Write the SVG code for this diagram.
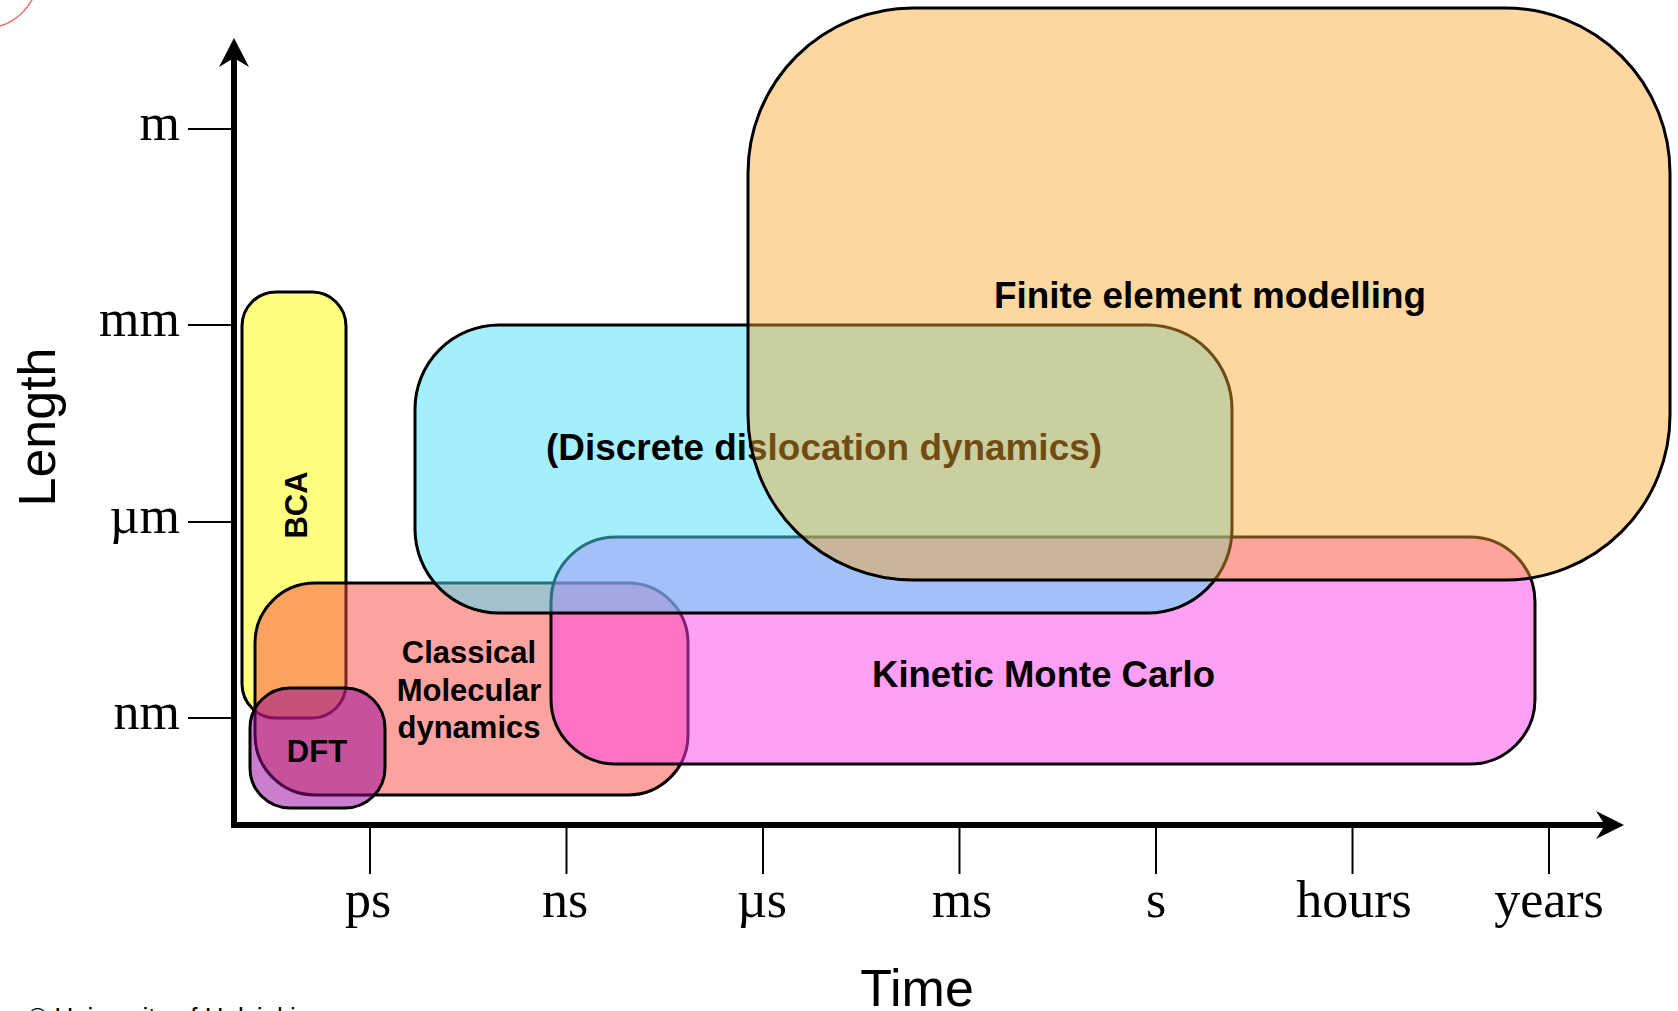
<svg xmlns="http://www.w3.org/2000/svg" width="1678" height="1011" viewBox="0 0 1678 1011">
<style>
.box{stroke:#000;stroke-width:3}
.lbl{font-family:"Liberation Sans",Arial,sans-serif;font-weight:bold;fill:#000}
.big{font-size:36px}
.small{font-size:31px}
.tick{stroke:#000;stroke-width:2}
.tl{font-family:"Liberation Serif","Times New Roman",serif;font-size:52px;fill:#000;text-anchor:middle}
.yl{font-family:"Liberation Serif","Times New Roman",serif;font-size:52px;fill:#000;text-anchor:end}
.axt{font-family:"Liberation Sans",Arial,sans-serif;font-size:52px;fill:#000;text-anchor:middle}
</style>
<rect x="0" y="0" width="1678" height="1011" fill="#fff"/>
<circle cx="-15" cy="-25" r="53" fill="none" stroke="#f07070" stroke-width="1.5"/>

<g id="node-bca">
<rect class="box" x="242" y="292" width="104" height="426" rx="34" fill="#ffff00" fill-opacity="0.5"/>
<text class="lbl small" transform="translate(307,505) rotate(-90)" text-anchor="middle">BCA</text>
</g>
<g id="node-md">
<rect class="box" x="255" y="583" width="433" height="212" rx="60" fill="#f9453f" fill-opacity="0.5"/>
<text class="lbl small" x="469" y="663" text-anchor="middle">Classical</text>
<text class="lbl small" x="469" y="701" text-anchor="middle">Molecular</text>
<text class="lbl small" x="469" y="738" text-anchor="middle">dynamics</text>
</g>
<g id="node-dft">
<rect class="box" x="250" y="688" width="135" height="120" rx="40" fill="#930099" fill-opacity="0.5"/>
<text class="lbl small" x="317" y="762" text-anchor="middle">DFT</text>
</g>
<g id="node-kmc">
<rect class="box" x="551" y="537" width="984" height="227" rx="65" fill="#ff41eb" fill-opacity="0.5"/>
<text class="lbl big" x="872" y="687" textLength="343" lengthAdjust="spacingAndGlyphs">Kinetic Monte Carlo</text>
</g>
<g id="node-ddd">
<rect class="box" x="415" y="325" width="817" height="288" rx="84" fill="#47dffb" fill-opacity="0.5"/>
<text class="lbl big" x="546" y="460" textLength="556" lengthAdjust="spacingAndGlyphs">(Discrete dislocation dynamics)</text>
</g>
<g id="node-fem">
<rect class="box" x="748" y="8" width="922" height="572" rx="165" fill="#f8a82c" fill-opacity="0.45"/>
<text class="lbl big" x="994" y="308" textLength="432" lengthAdjust="spacingAndGlyphs">Finite element modelling</text>
</g>

<g id="axes">
<line x1="234" y1="828" x2="234" y2="56" stroke="#000" stroke-width="6"/>
<polygon points="234,38 249,67 234,58 219,67" fill="#000"/>
<line x1="231" y1="825" x2="1606" y2="825" stroke="#000" stroke-width="6"/>
<polygon points="1624,825 1596,811 1605,825 1596,839" fill="#000"/>
<g class="tick">
<line x1="188" y1="129" x2="233" y2="129"/>
<line x1="188" y1="325" x2="233" y2="325"/>
<line x1="188" y1="522" x2="233" y2="522"/>
<line x1="188" y1="718" x2="233" y2="718"/>
<line x1="370" y1="826" x2="370" y2="874"/>
<line x1="566.5" y1="826" x2="566.5" y2="874"/>
<line x1="763" y1="826" x2="763" y2="874"/>
<line x1="959.5" y1="826" x2="959.5" y2="874"/>
<line x1="1156" y1="826" x2="1156" y2="874"/>
<line x1="1352.5" y1="826" x2="1352.5" y2="874"/>
<line x1="1549" y1="826" x2="1549" y2="874"/>
</g>
<text class="yl" x="180" y="139.5">m</text>
<text class="yl" x="180" y="335.5">mm</text>
<text class="yl" x="180" y="532.5">µm</text>
<text class="yl" x="180" y="729">nm</text>
<text class="tl" x="368" y="917">ps</text>
<text class="tl" x="565" y="917">ns</text>
<text class="tl" x="762" y="917">µs</text>
<text class="tl" x="962" y="917">ms</text>
<text class="tl" x="1156" y="917">s</text>
<text class="tl" x="1354" y="917">hours</text>
<text class="tl" x="1549" y="917">years</text>
<text class="axt" transform="translate(55,427) rotate(-90)">Length</text>
<text class="axt" x="917" y="1006">Time</text>
</g>
<g id="connectors"></g>
<text x="28" y="1026" font-family="'Liberation Sans',Arial,sans-serif" font-size="26" fill="#000">© University of Helsinki</text>
</svg>
